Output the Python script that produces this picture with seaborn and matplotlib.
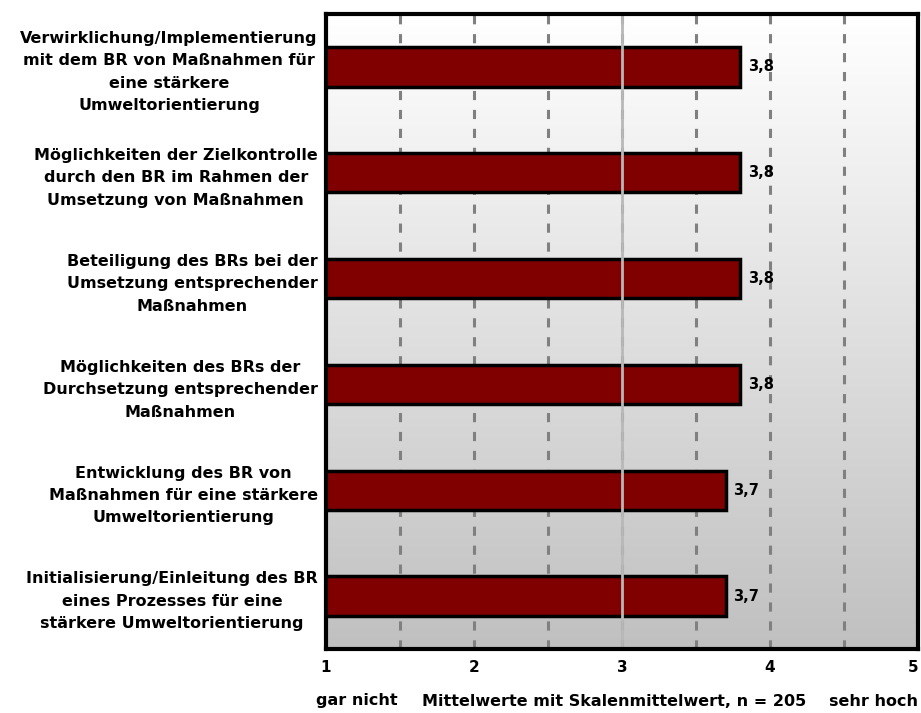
import numpy as np
import pandas as pd
import matplotlib
matplotlib.use("Agg")
import matplotlib.pyplot as plt
import seaborn as sns

categories = [
    "Verwirklichung/Implementierung\nmit dem BR von Maßnahmen für\neine stärkere\nUmweltorientierung",
    "Möglichkeiten der Zielkontrolle\ndurch den BR im Rahmen der\nUmsetzung von Maßnahmen",
    "Beteiligung des BRs bei der\nUmsetzung entsprechender\nMaßnahmen",
    "Möglichkeiten des BRs der\nDurchsetzung entsprechender\nMaßnahmen",
    "Entwicklung des BR von\nMaßnahmen für eine stärkere\nUmweltorientierung",
    "Initialisierung/Einleitung des BR\neines Prozesses für eine\nstärkere Umweltorientierung",
]
values = [3.8, 3.8, 3.8, 3.8, 3.7, 3.7]
xticks = [1, 2, 3, 4, 5]
xtick_labels = ["1", "2", "3", "4", "5"]

sns.set_theme(style="white")
plt.rcParams["font.family"] = ["DejaVu Sans"]
plt.rcParams["font.weight"] = "bold"
plt.rcParams["text.color"] = "black"
plt.rcParams["xtick.color"] = "black"
plt.rcParams["ytick.color"] = "black"

df = pd.DataFrame({"Item": categories, "Mittelwert": values})

fig = plt.figure(figsize=(9.21, 7.13), dpi=100)
ax = fig.add_axes([0.354, 0.0898, 0.6427, 0.8905])

# vertical background gradient: white at top, silver at bottom
grad = np.linspace(0, 1, 256).reshape(-1, 1)
cmap = matplotlib.colors.LinearSegmentedColormap.from_list("bg", ["#ffffff", "#c0c0c0"])
ax.imshow(grad, cmap=cmap, aspect="auto", extent=[1, 5, 5.5, -0.5],
          zorder=0, interpolation="bilinear")

# dashed reference lines
for xv in [1.5, 2, 2.5, 3, 3.5, 4, 4.5]:
    ax.axvline(xv, color="#808080", lw=2.2, ls=(0, (3, 3.2)), zorder=1)

sns.barplot(data=df, y="Item", x="Mittelwert", orient="h", color="#800000",
            saturation=1, width=0.37, edgecolor="black", linewidth=2.5,
            ax=ax, zorder=2)

# scale midpoint
ax.axvline(3, color="#b8b8b8", lw=2, zorder=3)

for i, v in enumerate(values):
    ax.text(v + 0.05, i, f"{v:.1f}".replace(".", ","), va="center", ha="left",
            fontsize=10.5, fontweight="bold", color="black", zorder=4)

ax.set_xlim(1, 5)
ax.set_ylim(5.5, -0.5)
ax.set_xticks(xticks)
ax.set_xticklabels(xtick_labels, fontsize=11, fontweight="bold", color="black")
ax.get_xticklabels()[-1].set_horizontalalignment("right")
ax.tick_params(axis="x", length=0, pad=8)
ax.tick_params(axis="y", length=0, pad=6)
ax.set_yticks(range(len(categories)))
ax.set_yticklabels(categories, fontsize=11.5, fontweight="bold", color="black",
                   multialignment="center", linespacing=1.62)
ax.set_xlabel("")
ax.set_ylabel("")
for s in ax.spines.values():
    s.set_visible(True)
    s.set_color("black")
    s.set_linewidth(3)
    s.set_zorder(5)

ylab = 1 - 701 / 713
fig.text(316 / 921, ylab, "gar nicht", ha="left", va="center",
         fontsize=11.5, fontweight="bold")
fig.text(614 / 921, ylab, "Mittelwerte mit Skalenmittelwert, n = 205",
         ha="center", va="center", fontsize=11.5, fontweight="bold")
fig.text(918 / 921, ylab, "sehr hoch", ha="right", va="center",
         fontsize=11.5, fontweight="bold")

fig.savefig("out.png", dpi=100, facecolor="white")
